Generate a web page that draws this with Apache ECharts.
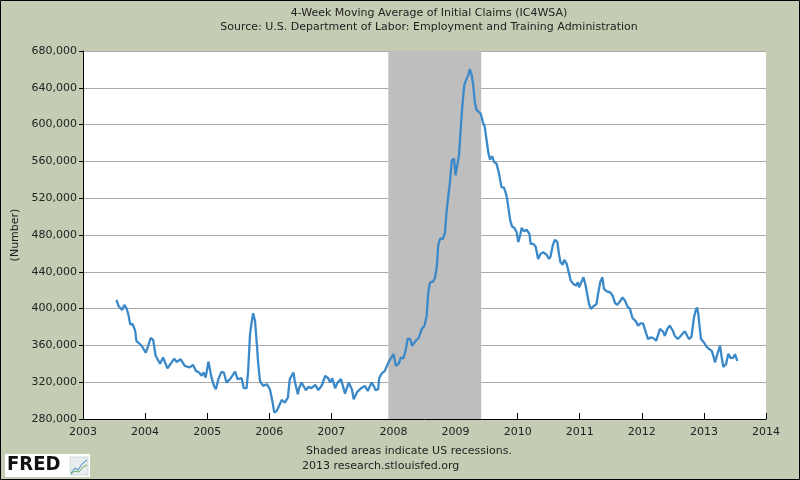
<!DOCTYPE html>
<html>
<head>
<meta charset="utf-8">
<script src="https://cdn.jsdelivr.net/npm/echarts@6/dist/echarts.min.js"></script>
<style>
html,body{margin:0;padding:0;background:#c5ccb4;}
#chart{width:800px;height:480px;}
</style>
</head>
<body>
<div id="chart"></div>
<script>
// decimal years of the readings
var years = [
2003.54,2003.57,2003.63,2003.665,2003.70,2003.73,2003.76,2003.80,2003.84,2003.86,2003.945,
2004.01,2004.05,2004.09,2004.13,2004.17,2004.24,2004.29,2004.36,2004.40,2004.47,2004.51,2004.57,2004.64,2004.72,2004.77,2004.82,2004.87,2004.91,2004.94,2004.975,
2005.02,2005.045,2005.07,2005.11,2005.14,2005.18,2005.23,2005.27,2005.31,2005.38,2005.45,2005.49,2005.555,2005.59,2005.635,2005.66,2005.69,2005.72,2005.74,2005.77,2005.80,2005.82,2005.85,2005.90,2005.96,
2006.01,2006.05,2006.08,2006.12,2006.20,2006.25,2006.30,2006.33,2006.39,2006.41,2006.46,2006.48,2006.52,2006.59,2006.63,2006.68,2006.74,2006.79,2006.85,2006.90,2006.95,2006.98,
2007.015,2007.06,2007.10,2007.155,2007.22,2007.28,2007.33,2007.36,2007.42,2007.49,2007.54,2007.585,2007.65,2007.69,2007.71,2007.755,2007.77,2007.81,2007.86,2007.88,2007.93,
2008.00,2008.04,2008.08,2008.12,2008.16,2008.20,2008.23,2008.27,2008.30,2008.36,2008.41,2008.455,2008.50,2008.535,2008.56,2008.59,2008.64,2008.67,2008.70,2008.72,2008.75,2008.80,2008.83,2008.86,2008.885,2008.91,2008.94,2008.975,
2009.00,2009.03,2009.055,2009.08,2009.11,2009.14,2009.17,2009.205,2009.23,2009.26,2009.285,2009.31,2009.34,2009.365,2009.405,2009.44,2009.47,2009.50,2009.53,2009.555,2009.59,2009.62,2009.66,2009.70,2009.74,2009.78,2009.82,2009.85,2009.88,2009.91,2009.945,2009.985,
2010.01,2010.04,2010.065,2010.10,2010.145,2010.19,2010.21,2010.25,2010.29,2010.33,2010.37,2010.41,2010.465,2010.505,2010.53,2010.565,2010.60,2010.64,2010.665,2010.69,2010.725,2010.75,2010.79,2010.815,2010.855,2010.90,2010.94,2010.97,2010.99,
2011.02,2011.06,2011.09,2011.12,2011.15,2011.18,2011.22,2011.27,2011.30,2011.33,2011.365,2011.39,2011.435,2011.49,2011.53,2011.57,2011.605,2011.65,2011.69,2011.73,2011.77,2011.81,2011.85,2011.905,2011.94,2011.98,
2012.02,2012.07,2012.10,2012.14,2012.185,2012.23,2012.27,2012.29,2012.34,2012.37,2012.41,2012.45,2012.50,2012.53,2012.58,2012.615,2012.66,2012.695,2012.73,2012.76,2012.80,2012.83,2012.84,2012.87,2012.89,2012.91,2012.926,2012.953,
2013.00,2013.045,2013.087,2013.126,2013.151,2013.179,2013.216,2013.26,2013.287,2013.312,2013.356,2013.393,2013.432,2013.474,2013.50,2013.538
];
// 4-week moving average of initial claims (thousands)
var claimsK = [
409.4,403,398.5,404,400.6,394,383,383,376,365,359.6,
352,359.6,368,366,348.7,340,346.8,335,338.9,345.7,342,345,337.8,336,338.9,332.3,330.5,327,330.5,325,
342.4,343,325,316,312.4,323.3,331.2,330.5,319.6,324.3,331.6,323.3,324.3,313.5,313.5,332,372.3,386.8,395,386.8,361.4,341.4,321.4,316,317.8,
312.4,299.6,286.9,288.7,300.7,297.8,303.2,323.3,330.5,321.4,306.9,313.5,319.6,311.3,314.9,313.5,317,311.3,317,326.9,324.3,319.6,
324.3,313.5,319.6,323.3,307.6,319.6,312.4,301.5,309.8,314.1,316,310.5,319.6,314.9,311.3,312.4,324.3,329.4,332.3,334,343,
350.5,337.8,339.6,346.8,345.7,356,367.5,366.9,359.6,365,368.6,377.8,381.4,392.3,417.6,428.6,429.3,434,446.8,468.6,475.9,475.9,483,508.6,523,537.6,561.2,563,
544.8,546.7,566.6,592,621,643,648.4,653.8,660.4,653.8,643,624.7,615.7,617.5,612,603,597.5,583,568.5,562,565.6,559.4,557.6,546.7,532,531.4,523,510.3,495.8,489.3,487.8,483,
472.2,479.5,487.8,484.1,485.7,481.3,470.4,470.4,467.5,454,459.5,461.3,458.8,454,456.6,468.6,474.8,472.2,459.5,450.3,447.8,453,448.6,446.8,430.4,426.8,425,428.6,423.1,
423.1,434,426.8,415.9,405,399.6,402.4,405,417.6,428.6,434,421.4,418.8,417.6,414,405.7,404.3,407.9,412.2,408.6,402.1,399.6,389.8,386.1,381.4,383.9,
383.9,373,366.9,368.6,368,365,373,377.8,375.2,370.5,377.8,381.4,375.9,370.5,366.9,369.4,373,375.2,370.5,366.9,369.4,370.5,390.4,398.5,401.3,394.1,383,366.9,
363.2,358.5,356,354.1,348.7,341.4,350.5,359.6,346.8,336.7,339.6,351,346.1,346.8,350.5,343.2
];
var recessions = [[2007.917, 2009.414]];
var yearTicks = [2003,2004,2005,2006,2007,2008,2009,2010,2011,2012,2013,2014];
var titleText = '4-Week Moving Average of Initial Claims (IC4WSA)';
var subtitleText = 'Source: U.S. Department of Labor: Employment and Training Administration';
var footer1 = 'Shaded areas indicate US recessions.';
var footer2 = '2013 research.stlouisfed.org';

var seriesData = years.map(function(y,i){ return [y, Math.round(claimsK[i]*1000)]; });
var FONT = 'DejaVu Sans';
var chart = echarts.init(document.getElementById('chart'), null, {renderer:'canvas'});
chart.setOption({
  backgroundColor: '#c5ccb4',
  animation: false,
  title: {
    text: titleText,
    subtext: subtitleText,
    left: 424, top: 3, textAlign: 'center', itemGap: 3,
    textStyle: {fontFamily: FONT, fontSize: 11, fontWeight: 'normal', color: '#222'},
    subtextStyle: {fontFamily: FONT, fontSize: 11, color: '#222'}
  },
  grid: {left: 83, right: 34, top: 51, bottom: 61, show: true, backgroundColor: '#ffffff', borderWidth: 0},
  xAxis: {
    type: 'value', min: 2003, max: 2014, interval: 1,
    axisLine: {show: true, onZero: false, lineStyle: {color: '#000', width: 1}},
    axisTick: {show: true, inside: true, length: 6, lineStyle: {color: '#000'}},
    axisLabel: {fontFamily: FONT, fontSize: 11, color: '#222', margin: 8,
      formatter: function(v){ return String(v); }},
    splitLine: {show: false}
  },
  yAxis: {
    type: 'value', min: 280000, max: 680000, interval: 40000,
    name: '(Number)', nameLocation: 'middle', nameGap: 60, nameRotate: 90,
    nameTextStyle: {fontFamily: FONT, fontSize: 11, color: '#222'},
    axisLine: {show: true, lineStyle: {color: '#000', width: 1}},
    axisTick: {show: true, inside: false, length: 4, lineStyle: {color: '#000'}},
    axisLabel: {fontFamily: FONT, fontSize: 11, color: '#222', margin: 6},
    splitLine: {show: true, lineStyle: {color: '#aaaaaa', width: 1}}
  },
  series: [{
    type: 'line',
    data: seriesData,
    showSymbol: false,
    smooth: false,
    lineStyle: {color: '#3b89c8', width: 2.3},
    markArea: {
      silent: true,
      itemStyle: {color: '#bebebe', opacity: 1},
      data: recessions.map(function(r){ return [{xAxis: r[0]}, {xAxis: r[1]}]; })
    },
    z: 3
  }],
  graphic: [
    {type:'text', left: 406 - 100, top: 446, style:{text: footer1, fontFamily: FONT, fontSize: 11, fill:'#222', width: 200, align:'center'}, x: 0},
    {type:'text', left: 402 - 100, top: 461, style:{text: footer2, fontFamily: FONT, fontSize: 11, fill:'#222', width: 200, align:'center'}},
    {type:'rect', shape:{x:5, y:454, width:85, height:23}, style:{fill:'#ffffff'}},
    {type:'text', x: 7, y: 455, style:{text:'FRED', fontFamily: 'DejaVu Sans Condensed, DejaVu Sans', fontSize: 20, fontWeight:'bold', fill:'#111'}},
    {type:'rect', shape:{x:70, y:457, width:18, height:18}, style:{fill:'#e8eef0', stroke:'#b0b8c0', lineWidth:0.5}},
    {type:'polyline', shape:{points:[[71,473],[75,468],[78,470],[82,464],[87,460]]}, style:{stroke:'#3b89c8', lineWidth:1, fill:null}},
    {type:'polyline', shape:{points:[[71,474],[75,471],[79,472],[83,467],[87,465]]}, style:{stroke:'#6aa84f', lineWidth:1, fill:null}},
    {type:'rect', shape:{x:0.5, y:0.5, width:799, height:479}, style:{fill:null, stroke:'#000', lineWidth:1}, z: 100}
  ]
});
</script>
</body>
</html>
